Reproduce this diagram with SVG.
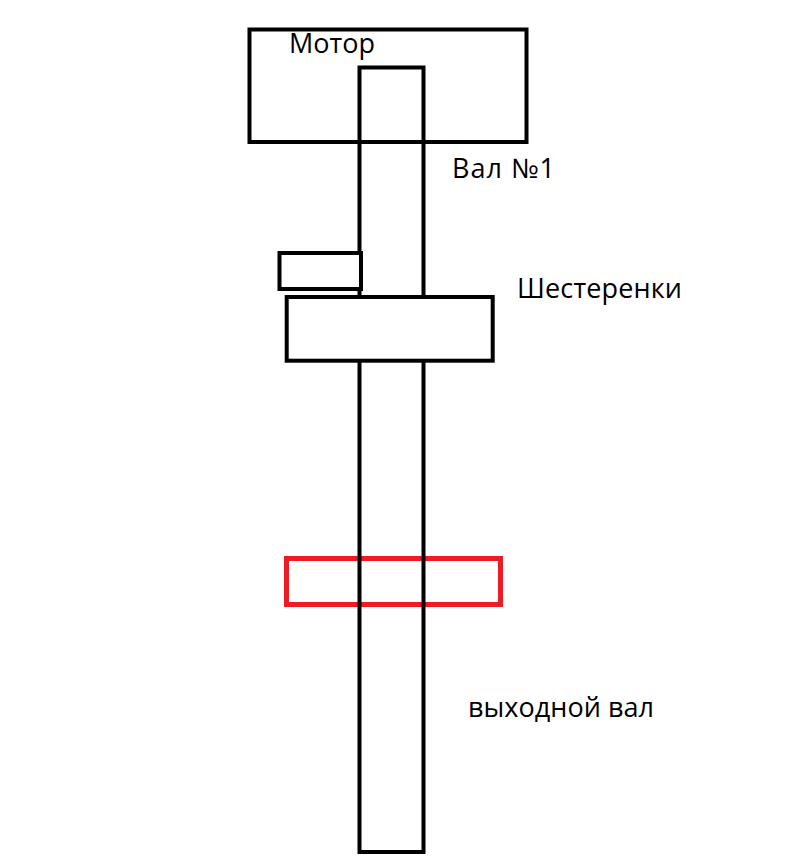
<svg xmlns="http://www.w3.org/2000/svg" width="799" height="866" viewBox="0 0 799 866">
<style>
.blk{fill:none;stroke:#000;stroke-width:4}
.gear{fill:#fff;stroke:#000;stroke-width:4}
.red{fill:none;stroke:#ED1C24;stroke-width:5}
text{font-family:"Open Sans","Noto Sans",sans-serif;font-size:27px;fill:#000}
</style>
<rect width="799" height="866" fill="#fff"/>
<g id="motor"><rect class="blk" x="249.5" y="29.5" width="277" height="112.5"/><text x="289" y="53" textLength="86">Мотор</text></g>
<g id="red-ring"><rect class="red" x="286.5" y="558.5" width="214" height="46"/></g>
<g id="shaft"><rect class="blk" x="359.5" y="67.5" width="64" height="784.5"/></g>
<g id="small-gear"><rect class="gear" x="279.5" y="253" width="81.5" height="36"/></g>
<g id="gear"><rect class="gear" x="286.7" y="297" width="206" height="63.7"/></g>
<g id="labels">
<text x="452" y="178" textLength="103">Вал №1</text>
<text x="517" y="298" textLength="165">Шестеренки</text>
<text x="468" y="717" textLength="186">выходной вал</text>
</g>
<g id="connectors"/>
</svg>
